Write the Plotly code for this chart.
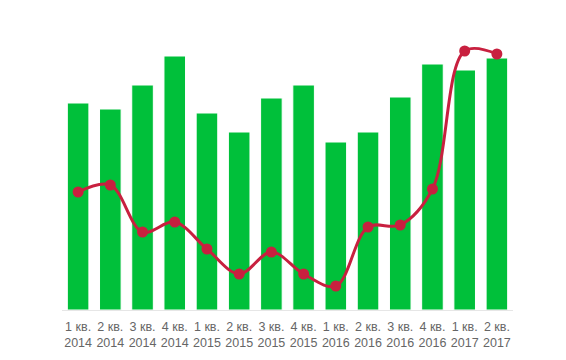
import plotly.graph_objects as go

categories = ["1 кв.<br>2014", "2 кв.<br>2014", "3 кв.<br>2014", "4 кв.<br>2014",
              "1 кв.<br>2015", "2 кв.<br>2015", "3 кв.<br>2015", "4 кв.<br>2015",
              "1 кв.<br>2016", "2 кв.<br>2016", "3 кв.<br>2016", "4 кв.<br>2016",
              "1 кв.<br>2017", "2 кв.<br>2017"]
bar_values = [207, 201, 225, 254, 197, 178, 212, 225, 168, 178, 213, 246, 240, 252]
line_values = [118, 125, 78, 88, 61, 36, 58, 36, 24, 83, 85, 121, 259, 256]

fig = go.Figure()
fig.add_trace(go.Bar(
    x=categories, y=bar_values,
    marker=dict(color="#00c03a", line=dict(color="#ffffff", width=1)),
    hoverinfo="skip",
))
fig.add_trace(go.Scatter(
    x=categories, y=line_values, mode="lines+markers",
    line=dict(color="#c8203f", width=3, shape="spline", smoothing=1),
    marker=dict(color="#c8203f", size=11),
))
fig.update_layout(
    width=566, height=360,
    margin=dict(l=62, r=53, t=40, b=50),
    paper_bgcolor="white", plot_bgcolor="white",
    showlegend=False, bargap=0.33,
    font=dict(family="Liberation Sans, Arial, sans-serif", size=12.5, color="#666666"),
    xaxis=dict(showline=True, linecolor="#e6e6e6", linewidth=1, ticks="",
               range=[-0.5, len(categories) - 0.5], autorange=False,
               automargin=False, ticklabelstandoff=5,
               tickfont=dict(size=12.5, color="#666666"), fixedrange=True),
    yaxis=dict(range=[0, 270], visible=False, showgrid=False, zeroline=False),
)
fig.write_html("out.html")
